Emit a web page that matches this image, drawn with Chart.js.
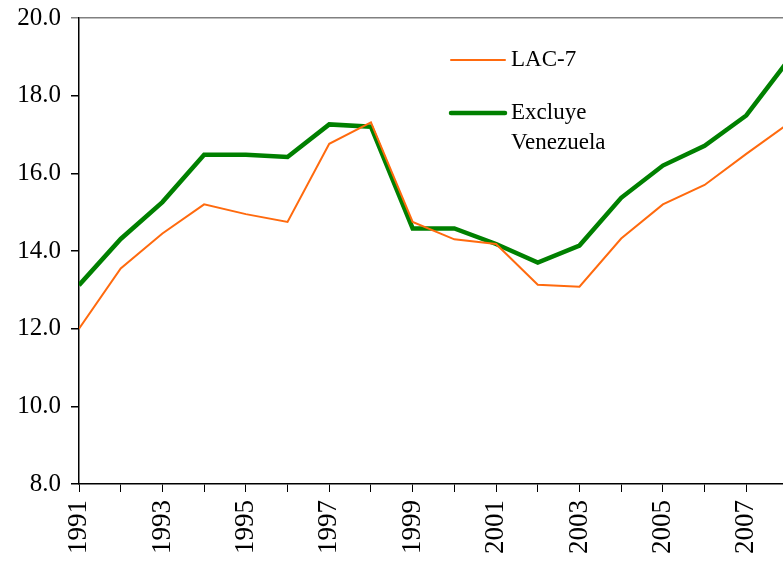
<!DOCTYPE html>
<html>
<head>
<meta charset="utf-8">
<script src="https://cdn.jsdelivr.net/npm/chart.js@4"></script>
<style>
  html, body { margin: 0; padding: 0; background: #fff; overflow: hidden; }
  #wrap { width: 783px; height: 561px; }
</style>
</head>
<body>
<div id="wrap"><canvas id="grafico" width="783" height="561"></canvas></div>
<script>
// datos
const anios = [1991, 1992, 1993, 1994, 1995, 1996, 1997, 1998, 1999,
               2000, 2001, 2002, 2003, 2004, 2005, 2006, 2007, 2008];
const lac7 = [12.0, 13.55, 14.45, 15.2, 14.95, 14.75, 16.76, 17.31, 14.75,
              14.3, 14.18, 13.13, 13.08, 14.32, 15.2, 15.7, 16.5, 17.27];
const excluyeVenezuela = [13.12, 14.31, 15.26, 16.48, 16.48, 16.42, 17.26, 17.2, 14.58,
                          14.58, 14.18, 13.7, 14.14, 15.37, 16.2, 16.71, 17.49, 18.9];
const ticksY = [8, 10, 12, 14, 16, 18, 20];

const fuente = '"Liberation Serif", "Times New Roman", serif';

const puntos = (serie) => anios.map((a, i) => ({ x: a, y: serie[i] }));

// leyenda dibujada a mano (etiqueta de dos lineas)
const leyendaPlugin = {
    id: 'leyenda',
    afterDraw(chart) {
        const ctx = chart.ctx;
        const items = [
            { ds: chart.data.datasets[0], y: 60 },
            { ds: chart.data.datasets[1], y: 113 }
        ];
        ctx.save();
        ctx.font = '23px ' + fuente;
        ctx.fillStyle = '#000';
        ctx.textBaseline = 'middle';
        items.forEach(it => {
            ctx.strokeStyle = it.ds.borderColor;
            ctx.lineWidth = it.ds.borderWidth;
            ctx.lineCap = 'round';
            ctx.beginPath();
            ctx.moveTo(451, it.y);
            ctx.lineTo(505, it.y);
            ctx.stroke();
            const lineas = Array.isArray(it.ds.label) ? it.ds.label : [it.ds.label];
            lineas.forEach((t, k) => ctx.fillText(t, 511, it.y + k * 30));
        });
        ctx.restore();
    }
};

const ctx = document.getElementById('grafico').getContext('2d');
new Chart(ctx, {
    type: 'line',
    data: {
        datasets: [
            {
                label: 'LAC-7',
                data: puntos(lac7),
                borderColor: '#ff6a0e',
                borderWidth: 2,
                pointRadius: 0,
                tension: 0
            },
            {
                label: ['Excluye', 'Venezuela'],
                data: puntos(excluyeVenezuela),
                borderColor: '#008000',
                borderWidth: 4.5,
                pointRadius: 0,
                tension: 0
            }
        ]
    },
    options: {
        responsive: false,
        animation: false,
        layout: { padding: { top: 18, right: 0, left: 0, bottom: 0 } },
        plugins: {
            legend: { display: false },
            tooltip: { enabled: false }
        },
        scales: {
            x: {
                type: 'linear',
                min: 1991,
                max: 2007.88,
                afterBuildTicks: (scale) => {
                    scale.ticks = anios.filter(a => a <= 2007).map(a => ({ value: a }));
                },
                afterFit: (scale) => {
                    scale.height = 77;
                    scale.paddingLeft = 0;
                    scale.paddingRight = 0;
                },
                ticks: {
                    autoSkip: false,
                    minRotation: 90,
                    maxRotation: 90,
                    padding: 8,
                    color: '#000',
                    font: { family: fuente, size: 27 },
                    callback: (v) => (v % 2 === 1 ? String(v) : '')
                },
                grid: {
                    drawOnChartArea: false,
                    tickLength: 8,
                    tickColor: '#000',
                    tickWidth: 1
                },
                border: { display: true, color: '#000', width: 1.5 }
            },
            y: {
                min: 8,
                max: 20,
                afterBuildTicks: (scale) => {
                    scale.ticks = ticksY.map(v => ({ value: v }));
                },
                afterFit: (scale) => {
                    scale.width = 79;
                    scale.paddingTop = 0;
                    scale.paddingBottom = 0;
                },
                ticks: {
                    padding: 10,
                    color: '#000',
                    font: { family: fuente, size: 25 },
                    callback: (v) => v.toFixed(1)
                },
                grid: {
                    color: (c) => (c.tick && c.tick.value === 20 ? '#808080' : 'rgba(0,0,0,0)'),
                    tickColor: (c) => (c.tick && c.tick.value === 20 ? '#808080' : '#000'),
                    tickLength: 8,
                    lineWidth: 1.5
                },
                border: { display: true, color: '#000', width: 1.5 }
            }
        }
    },
    plugins: [leyendaPlugin]
});
</script>
</body>
</html>
